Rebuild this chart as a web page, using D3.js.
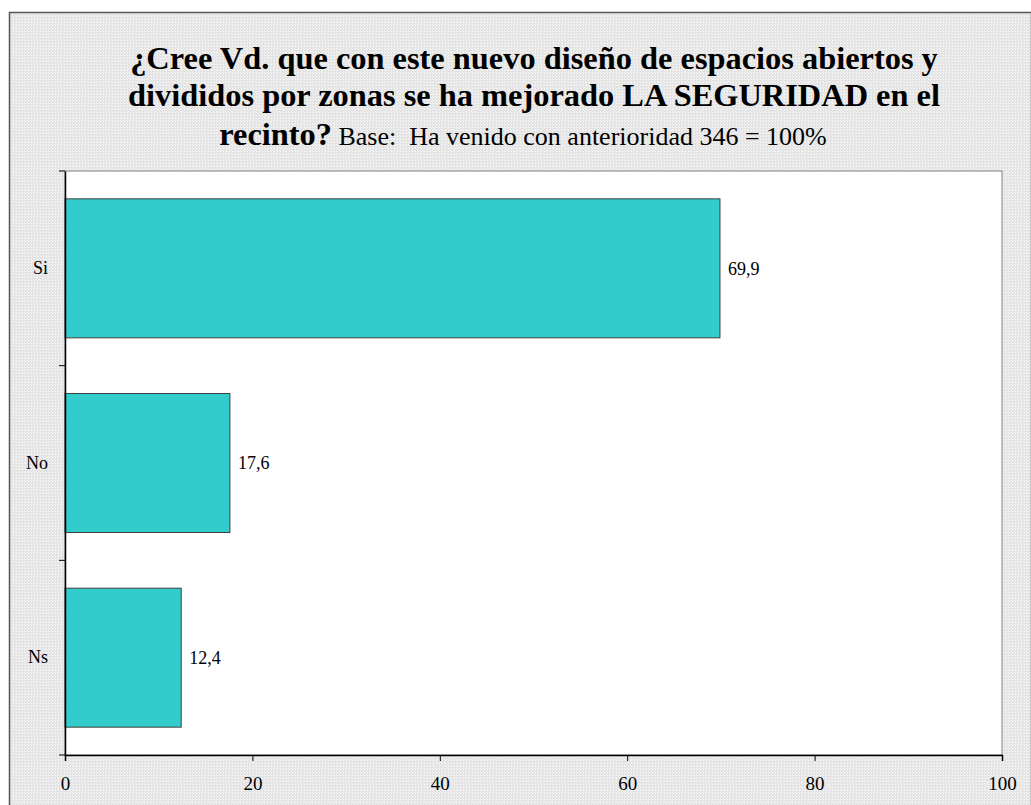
<!DOCTYPE html>
<html>
<head>
<meta charset="utf-8">
<script src="https://cdn.jsdelivr.net/npm/d3@7"></script>
<style>
  body { margin: 0; background: #fff; }
  svg { display: block; }
</style>
</head>
<body>
<script>
// chart data
var categories = ["Si", "No", "Ns"];
var values = [69.9, 17.6, 12.4];
var valueLabels = ["69,9", "17,6", "12,4"];
var xTicks = [0, 20, 40, 60, 80, 100];

var serif = "'Liberation Serif', 'Times New Roman', serif";

window.onload = function(){
    var w = 1031, h = 805;
    var svg = d3.select("body").append("svg")
        .attr("width", w)
        .attr("height", h)
        .style("font-family", serif);

    // dotted gray background pattern
    var pat = svg.append("defs").append("pattern")
        .attr("id", "dots")
        .attr("patternUnits", "userSpaceOnUse")
        .attr("width", 3).attr("height", 3);
    pat.append("rect").attr("width", 3).attr("height", 3).attr("fill", "#e4e4e4");
    pat.append("rect").attr("x", 1).attr("y", 1).attr("width", 1).attr("height", 1).attr("fill", "#ffffff");
    pat.append("rect").attr("x", 0).attr("y", 0).attr("width", 1).attr("height", 1).attr("fill", "#f2f2f2");

    // outer frame
    svg.append("rect")
        .attr("x", 9.5).attr("y", 12.5)
        .attr("width", 1022).attr("height", 800)
        .attr("fill", "url(#dots)")
        .attr("stroke", "#555").attr("stroke-width", 1.5);

    // title
    var title = svg.append("text")
        .attr("text-anchor", "middle")
        .style("font-family", serif);
    title.append("tspan").attr("x", 534).attr("y", 69)
        .style("font-weight", "bold").style("font-size", "32.4px")
        .text("¿Cree Vd. que con este nuevo diseño de espacios abiertos y");
    title.append("tspan").attr("x", 534).attr("y", 106)
        .style("font-weight", "bold").style("font-size", "32.4px")
        .text("divididos por zonas se ha mejorado LA SEGURIDAD en el");
    var t3 = svg.append("text")
        .attr("text-anchor", "middle")
        .attr("x", 523).attr("y", 145)
        .style("font-family", serif);
    t3.append("tspan").style("font-weight", "bold").style("font-size", "32.4px").text("recinto?");
    t3.append("tspan").style("font-size", "26px").text(" Base:\u00a0 Ha venido con anterioridad 346 = 100%");

    // plot area
    var left = 65, right = 1002, top = 171, bottom = 755;

    var x = d3.scaleLinear().domain([0, 100]).range([left, right]);
    var y = d3.scaleBand().domain(categories).range([top, bottom]).padding(0);
    var barH = y.bandwidth() * 0.714;

    svg.append("rect")
        .attr("x", left).attr("y", top)
        .attr("width", right - left).attr("height", bottom - top)
        .attr("fill", "#fff")
        .attr("stroke", "#808080").attr("stroke-width", 1);

    // bars
    svg.selectAll(".bar")
        .data(values)
        .enter().append("rect")
        .attr("class", "bar")
        .attr("x", x(0))
        .attr("y", function(d, i){ return y(categories[i]) + (y.bandwidth() - barH) / 2; })
        .attr("width", function(d){ return x(d) - x(0); })
        .attr("height", barH)
        .attr("fill", "#33cccc")
        .attr("stroke", "#404040").attr("stroke-width", 1);

    // value labels
    svg.selectAll(".val")
        .data(values)
        .enter().append("text")
        .attr("class", "val")
        .attr("x", function(d){ return x(d) + 8; })
        .attr("y", function(d, i){ return y(categories[i]) + y.bandwidth() / 2; })
        .attr("dy", "0.35em")
        .style("font-family", serif)
        .style("font-size", "18px")
        .text(function(d, i){ return valueLabels[i]; });

    // x axis
    var xAxis = svg.append("g")
        .attr("transform", "translate(0," + bottom + ")")
        .call(d3.axisBottom(x).tickValues(xTicks).tickSizeOuter(0).tickSize(6).tickPadding(16));
    xAxis.select(".domain").attr("stroke", "#000").attr("stroke-width", 1.5);
    xAxis.selectAll(".tick line").attr("stroke", "#000");
    xAxis.selectAll("text").style("font-size", "19px").style("font-family", serif);

    // y axis: ticks at category boundaries
    var yAxis = svg.append("g")
        .attr("transform", "translate(" + left + ",0)")
        .call(d3.axisLeft(y).tickSize(0).tickPadding(17));
    yAxis.select(".domain").attr("stroke", "#000").attr("stroke-width", 1.5);
    yAxis.selectAll("text").style("font-size", "18px").style("font-family", serif);

    var bounds = categories.map(function(c){ return y(c); }).concat([bottom]);
    svg.selectAll(".ytick")
        .data(bounds)
        .enter().append("line")
        .attr("class", "ytick")
        .attr("x1", left - 6).attr("x2", left)
        .attr("y1", function(d){ return d; })
        .attr("y2", function(d){ return d; })
        .attr("stroke", "#000");
};
</script>
</body>
</html>
